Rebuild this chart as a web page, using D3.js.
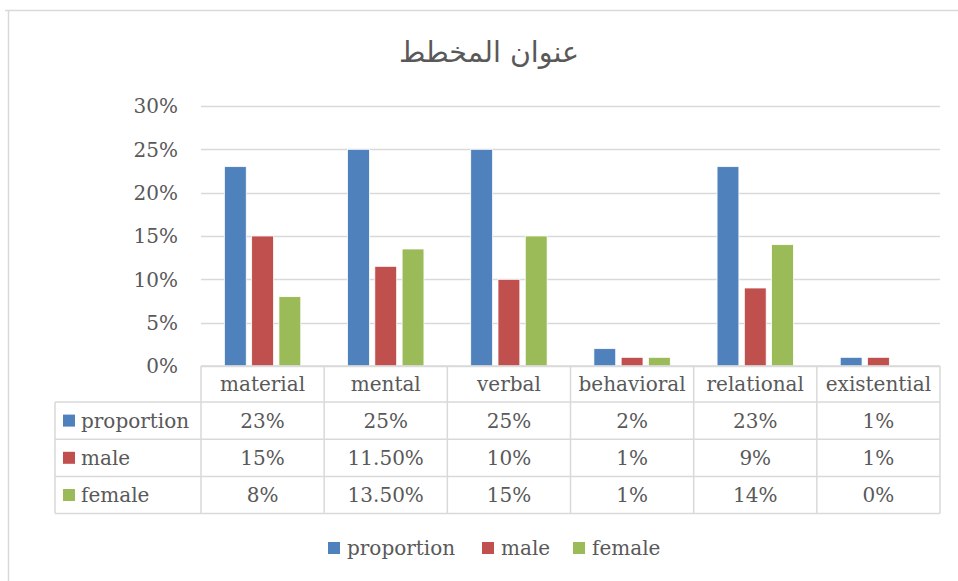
<!DOCTYPE html>
<html>
<head>
<meta charset="utf-8">
<script src="https://cdn.jsdelivr.net/npm/d3@7"></script>
<style>
  body { margin: 0; background: #fff; }
  text { font-family: "DejaVu Serif", serif; fill: #595959; }
</style>
</head>
<body>
<div id="chart"></div>
<script>
/*global d3*/

var title = "عنوان المخطط";
var categories = ["material", "mental", "verbal", "behavioral", "relational", "existential"];
var seriesNames = ["proportion", "male", "female"];
var proportion = [0.23, 0.25, 0.25, 0.02, 0.23, 0.01];
var male = [0.15, 0.115, 0.10, 0.01, 0.09, 0.01];
var female = [0.08, 0.135, 0.15, 0.01, 0.14, 0.00];
var tableLabels = [
  ["23%", "25%", "25%", "2%", "23%", "1%"],
  ["15%", "11.50%", "10%", "1%", "9%", "1%"],
  ["8%", "13.50%", "15%", "1%", "14%", "0%"]
];
var yTicks = [0, 0.05, 0.10, 0.15, 0.20, 0.25, 0.30];

var colors = ["#4f81bd", "#c0504d", "#9bbb59"];
var seriesValues = [proportion, male, female];

var width = 958,
    height = 581,
    plot = {left: 201, right: 940, top: 106, bottom: 366},
    table = {left: 55, headerBottom: 402, rowH: 37.2};

var svg = d3.select("#chart").append("svg")
  .attr("width", width)
  .attr("height", height);

// outer frame of the chart area
svg.append("line")
  .attr("x1", 5).attr("x2", width).attr("y1", 10.5).attr("y2", 10.5)
  .style("stroke", "#d9d9d9").style("stroke-width", 1.5);
svg.append("line")
  .attr("x1", 8.5).attr("x2", 8.5).attr("y1", 10).attr("y2", height)
  .style("stroke", "#d9d9d9").style("stroke-width", 1.5);

svg.append("text")
  .attr("x", 489)
  .attr("y", 62)
  .attr("text-anchor", "middle")
  .style("font-family", "'DejaVu Sans', sans-serif")
  .style("font-size", "28.5px")
  .text(title);

var x0 = d3.scaleBand()
  .domain(categories)
  .range([plot.left, plot.right]);

var x1 = d3.scaleBand()
  .domain(seriesNames)
  .range([x0.bandwidth() * 0.19, x0.bandwidth() * 0.81])
  .paddingInner(0.2);

var y = d3.scaleLinear()
  .domain([0, 0.30])
  .range([plot.bottom, plot.top]);

// gridlines
svg.append("g")
  .selectAll("line")
  .data(yTicks)
  .enter()
  .append("line")
  .attr("x1", plot.left)
  .attr("x2", plot.right)
  .attr("y1", function(d){ return Math.round(y(d)) + 0.5; })
  .attr("y2", function(d){ return Math.round(y(d)) + 0.5; })
  .style("stroke", "#d9d9d9")
  .style("stroke-width", 1.5);

// y axis labels
svg.append("g")
  .selectAll("text")
  .data(yTicks)
  .enter()
  .append("text")
  .attr("x", 178)
  .attr("y", function(d){ return y(d); })
  .attr("dy", "0.36em")
  .attr("text-anchor", "end")
  .style("font-size", "20px")
  .text(d3.format(".0%"));

// bars
var groups = svg.append("g")
  .selectAll("g")
  .data(categories)
  .enter()
  .append("g")
  .attr("transform", function(d){ return "translate(" + x0(d) + ",0)"; });

groups.selectAll("rect")
  .data(function(d, i){
    return seriesNames.map(function(s, j){ return {series: s, value: seriesValues[j][i], color: colors[j]}; });
  })
  .enter()
  .append("rect")
  .attr("x", function(d){ return x1(d.series); })
  .attr("y", function(d){ return y(d.value); })
  .attr("width", x1.bandwidth())
  .attr("height", function(d){ return y(0) - y(d.value); })
  .style("fill", function(d){ return d.color; })
  .style("stroke", "#fff")
  .style("stroke-width", 0.75);

// data table
var tbl = svg.append("g");
var rowY = function(i){ return table.headerBottom + i * table.rowH; };
var tableBottom = rowY(3);
var lineStyle = function(sel){
  return sel.style("stroke", "#d9d9d9").style("stroke-width", 1.5);
};

// horizontal lines
tbl.append("line").attr("x1", plot.left).attr("x2", plot.right)
  .attr("y1", plot.bottom).attr("y2", plot.bottom).call(lineStyle);
[0, 1, 2, 3].forEach(function(i){
  tbl.append("line").attr("x1", table.left).attr("x2", plot.right)
    .attr("y1", rowY(i)).attr("y2", rowY(i)).call(lineStyle);
});
// vertical lines
tbl.append("line").attr("x1", table.left).attr("x2", table.left)
  .attr("y1", table.headerBottom).attr("y2", tableBottom).call(lineStyle);
categories.concat(["end"]).forEach(function(c, i){
  var xx = i < categories.length ? x0(c) : plot.right;
  tbl.append("line").attr("x1", xx).attr("x2", xx)
    .attr("y1", plot.bottom).attr("y2", tableBottom).call(lineStyle);
});

// header
tbl.selectAll("text.cat")
  .data(categories)
  .enter()
  .append("text")
  .attr("class", "cat")
  .attr("x", function(d){ return x0(d) + x0.bandwidth() / 2; })
  .attr("y", (plot.bottom + table.headerBottom) / 2)
  .attr("dy", "0.36em")
  .attr("text-anchor", "middle")
  .style("font-size", "20px")
  .text(function(d){ return d; });

seriesNames.forEach(function(s, j){
  var cy = rowY(j) + table.rowH / 2;
  tbl.append("rect")
    .attr("x", 63).attr("y", cy - 6)
    .attr("width", 12).attr("height", 12)
    .style("fill", colors[j]);
  tbl.append("text")
    .attr("x", 81).attr("y", cy).attr("dy", "0.36em")
    .style("font-size", "20px")
    .text(s);
  tbl.selectAll("text.v" + j)
    .data(tableLabels[j])
    .enter()
    .append("text")
    .attr("class", "v" + j)
    .attr("x", function(d, i){ return x0(categories[i]) + x0.bandwidth() / 2; })
    .attr("y", cy)
    .attr("dy", "0.36em")
    .attr("text-anchor", "middle")
    .style("font-size", "20px")
    .text(function(d){ return d; });
});

// legend
var legendX = [328, 482, 573];
var legend = svg.append("g")
  .selectAll("g")
  .data(seriesNames)
  .enter()
  .append("g")
  .attr("transform", function(d, i){ return "translate(" + legendX[i] + ",548)"; });

legend.append("rect")
  .attr("x", 0).attr("y", -6)
  .attr("width", 12).attr("height", 12)
  .style("fill", function(d, i){ return colors[i]; });

legend.append("text")
  .attr("x", 19)
  .attr("dy", "0.36em")
  .style("font-size", "20px")
  .text(function(d){ return d; });
</script>
</body>
</html>
